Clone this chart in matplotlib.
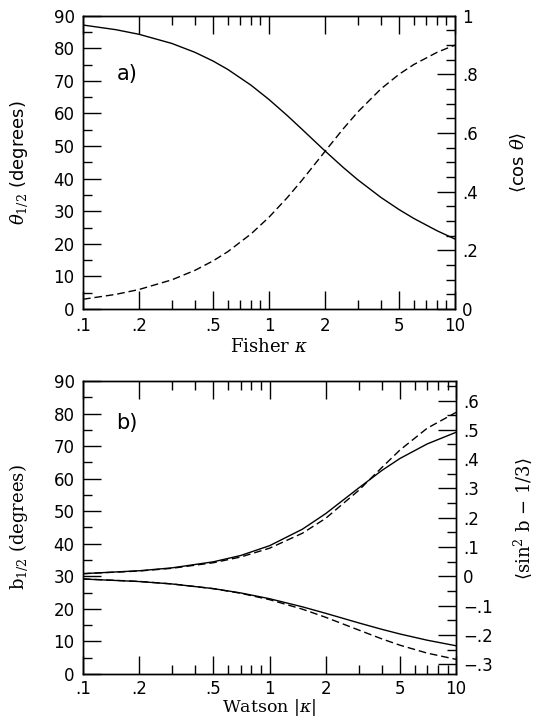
import matplotlib.pyplot as plt
from matplotlib.ticker import FixedLocator, FixedFormatter, MultipleLocator, NullFormatter

# panel a): Fisher distribution
fisher_kappa = [0.1, 0.15, 0.2, 0.3, 0.4, 0.5, 0.6, 0.8, 1.0, 1.25, 1.5, 2.0,
                2.5, 3.0, 4.0, 5.0, 6.0, 8.0, 10.0]
fisher_theta_half = [87.14, 85.72, 84.30, 81.50, 78.76, 76.10, 73.53, 68.69, 64.29,
                     59.43, 55.23, 48.51, 43.50, 39.67, 34.23, 30.53, 27.81, 24.03, 21.47]
fisher_mean_cos = [0.0333, 0.0499, 0.0665, 0.0994, 0.1319, 0.1640, 0.1954, 0.2559,
                   0.3130, 0.3789, 0.4381, 0.5373, 0.6136, 0.6716, 0.7507, 0.8001,
                   0.8334, 0.8750, 0.9000]

# panel b): Watson distribution, upper curves kappa > 0, lower curves kappa < 0
watson_kappa = [0.1, 0.2, 0.3, 0.5, 0.7, 1.0, 1.5, 2.0, 3.0, 4.0, 5.0, 7.0, 10.0]
watson_b_half_pos = [30.82, 31.71, 32.60, 34.46, 36.39, 39.40, 44.47, 49.26, 57.09,
                     62.51, 66.19, 70.66, 74.24]
watson_b_half_neg = [29.17, 28.40, 27.65, 26.22, 24.90, 23.12, 20.63, 18.64, 15.71,
                     13.72, 12.29, 10.38, 8.67]
watson_sin2_pos = [0.0090, 0.0181, 0.0274, 0.0464, 0.0659, 0.0959, 0.1470, 0.1979,
                   0.2929, 0.3713, 0.4309, 0.5054, 0.5594]
watson_sin2_neg = [-0.0088, -0.0174, -0.0259, -0.0422, -0.0578, -0.0796, -0.1121,
                   -0.1399, -0.1831, -0.2135, -0.2350, -0.2621, -0.2833]

x_ticks = [0.1, 0.2, 0.5, 1, 2, 5, 10]
x_tick_labels = ['.1', '.2', '.5', '1', '2', '5', '10']
x_minor = [0.3, 0.4, 0.6, 0.7, 0.8, 0.9, 3, 4, 6, 7, 8, 9]
right_a_ticks = [0, 0.2, 0.4, 0.6, 0.8, 1.0]
right_a_labels = ['0', '.2', '.4', '.6', '.8', '1']
right_b_ticks = [-0.3, -0.2, -0.1, 0, 0.1, 0.2, 0.3, 0.4, 0.5, 0.6]
right_b_labels = ['\u2212.3', '\u2212.2', '\u2212.1', '0', '.1', '.2', '.3', '.4', '.5', '.6']
right_b_minor = [-0.25, -0.15, -0.05, 0.05, 0.15, 0.25, 0.35, 0.45, 0.55, 0.65]

plt.rcParams['font.family'] = 'DejaVu Sans'
plt.rcParams['mathtext.fontset'] = 'dejavuserif'

LW = 1.0
DASH = (5.5, 2.8)
TICK_FS = 12
LABEL_FS = 13
serif = 'DejaVu Serif'


def style_axes(ax, twin):
    ax.set_xscale('log')
    ax.set_xlim(0.1, 10)
    ax.xaxis.set_major_locator(FixedLocator(x_ticks))
    ax.xaxis.set_major_formatter(FixedFormatter(x_tick_labels))
    ax.xaxis.set_minor_locator(FixedLocator(x_minor))
    ax.xaxis.set_minor_formatter(NullFormatter())
    ax.set_ylim(0, 90)
    ax.yaxis.set_major_locator(MultipleLocator(10))
    ax.yaxis.set_minor_locator(MultipleLocator(5))
    ax.tick_params(which='both', direction='in', top=True, bottom=True,
                   left=True, right=False, width=LW, labelsize=TICK_FS)
    ax.tick_params(which='major', length=13)
    ax.tick_params(which='minor', length=6.5)
    ax.tick_params(axis='x', pad=6)
    ax.tick_params(axis='y', pad=6)
    twin.tick_params(which='both', direction='in', left=False, right=True,
                     width=LW, labelsize=TICK_FS, pad=5)
    twin.tick_params(which='major', length=13)
    twin.tick_params(which='minor', length=6.5)
    for a in (ax, twin):
        for s in a.spines.values():
            s.set_linewidth(LW)


fig = plt.figure(figsize=(5.43, 7.21), dpi=100)

# ---- panel a ----
ax1 = fig.add_axes([0.1529, 0.5714, 0.685, 0.4068])
tw1 = ax1.twinx()
style_axes(ax1, tw1)
ax1.plot(fisher_kappa, fisher_theta_half, color='black', lw=LW)
tw1.plot(fisher_kappa, fisher_mean_cos, color='black', lw=LW, dashes=DASH)
tw1.set_ylim(0, 1)
tw1.yaxis.set_major_locator(FixedLocator(right_a_ticks))
tw1.yaxis.set_major_formatter(FixedFormatter(right_a_labels))
tw1.yaxis.set_minor_locator(MultipleLocator(0.05))
ax1.set_xlabel(r'Fisher $\kappa$', fontsize=LABEL_FS, family=serif)
ax1.set_ylabel(r'$\theta_{1/2}$ (degrees)', fontsize=LABEL_FS)
tw1.set_ylabel(r'$\langle$cos $\theta\rangle$', fontsize=LABEL_FS, rotation=90)
ax1.xaxis.set_label_coords(0.5, -0.10)
ax1.yaxis.set_label_coords(-0.142, 0.5)
tw1.yaxis.set_label_coords(1.145, 0.5)
ax1.text(0.09, 0.80, 'a)', transform=ax1.transAxes, fontsize=15, va='center')

# ---- panel b ----
ax2 = fig.add_axes([0.1529, 0.0652, 0.687, 0.4064])
tw2 = ax2.twinx()
style_axes(ax2, tw2)
ax2.tick_params(axis='x', pad=4)
ax2.plot(watson_kappa, watson_b_half_pos, color='black', lw=LW)
ax2.plot(watson_kappa, watson_b_half_neg, color='black', lw=LW)
tw2.plot(watson_kappa, watson_sin2_pos, color='black', lw=LW, dashes=DASH)
tw2.plot(watson_kappa, watson_sin2_neg, color='black', lw=LW, dashes=DASH)
tw2.set_ylim(-1 / 3, 2 / 3)
tw2.yaxis.set_major_locator(FixedLocator(right_b_ticks))
tw2.yaxis.set_major_formatter(FixedFormatter(right_b_labels))
tw2.yaxis.set_minor_locator(FixedLocator(right_b_minor))
ax2.set_xlabel(r'Watson $|\kappa|$', fontsize=12.5, family=serif)
ax2.set_ylabel(r'b$_{1/2}$ (degrees)', fontsize=LABEL_FS, family=serif)
tw2.set_ylabel(r'$\langle$sin$^2$ b $-$ 1/3$\rangle$', fontsize=LABEL_FS,
               family=serif, rotation=90)
ax2.xaxis.set_label_coords(0.5, -0.077)
ax2.yaxis.set_label_coords(-0.142, 0.5)
tw2.yaxis.set_label_coords(1.15, 0.53)
ax2.text(0.09, 0.855, 'b)', transform=ax2.transAxes, fontsize=15, va='center')

fig.savefig('out.png', dpi=100)
